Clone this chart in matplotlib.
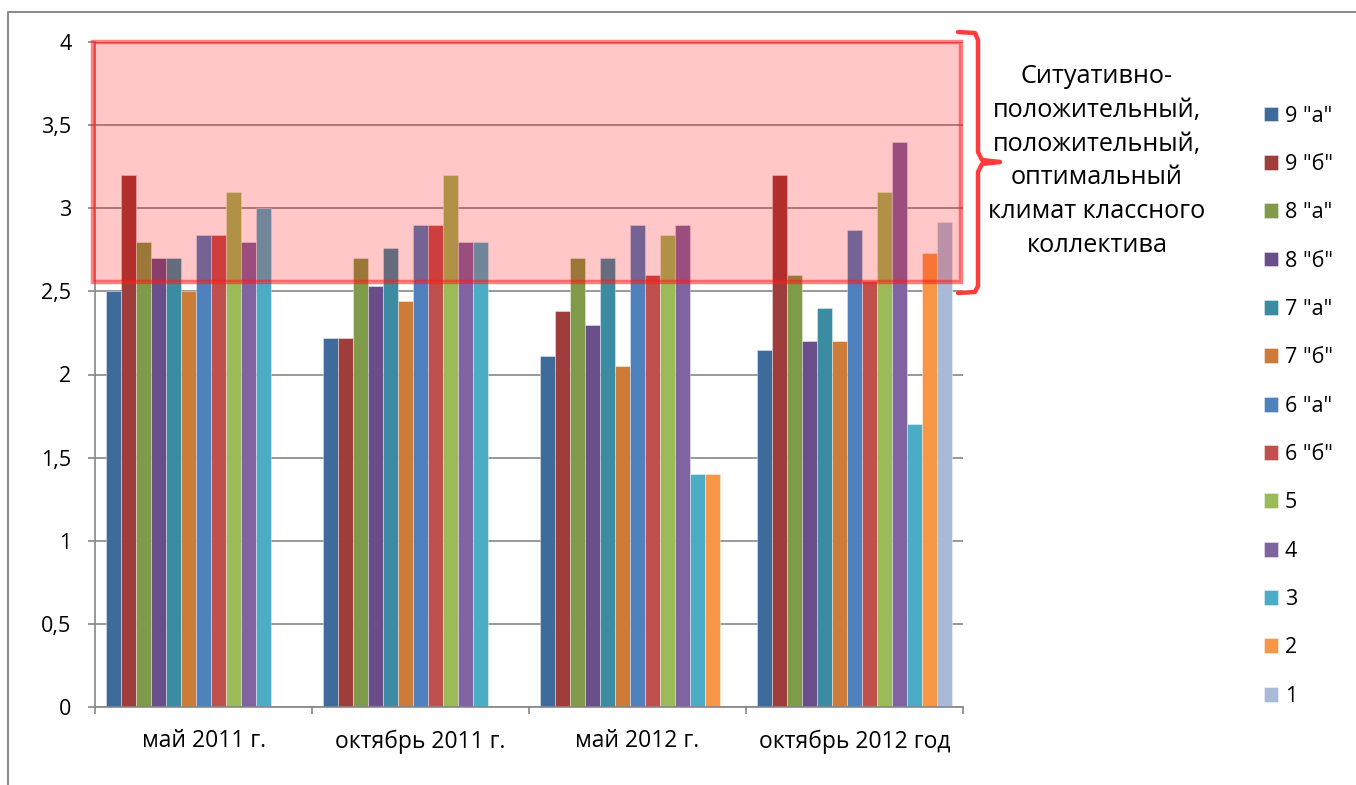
import numpy as np
import matplotlib
matplotlib.use('Agg')
import matplotlib.pyplot as plt
from matplotlib.patches import Rectangle
from matplotlib.lines import Line2D
import matplotlib.transforms as mtransforms

plt.rcParams['font.family'] = ['Open Sans', 'DejaVu Sans']

periods = ['май 2011 г.', 'октябрь 2011 г.', 'май 2012 г.', 'октябрь 2012 год']
classes = ['9 "а"', '9 "б"', '8 "а"', '8 "б"', '7 "а"', '7 "б"',
           '6 "а"', '6 "б"', '5', '4', '3', '2', '1']

# one list per period, in class order; None = no data
may_2011 = [2.5, 3.2, 2.8, 2.7, 2.7, 2.5, 2.84, 2.84, 3.1, 2.8, 3.0, None, None]
oct_2011 = [2.22, 2.22, 2.7, 2.53, 2.76, 2.44, 2.9, 2.9, 3.2, 2.8, 2.8, None, None]
may_2012 = [2.11, 2.38, 2.7, 2.3, 2.7, 2.05, 2.9, 2.6, 2.84, 2.9, 1.4, 1.4, None]
oct_2012 = [2.15, 3.2, 2.6, 2.2, 2.4, 2.2, 2.87, 2.56, 3.1, 3.4, 1.7, 2.73, 2.92]

colors = ['#3E6A9C', '#9E3D3B', '#7F9A48', '#6A4E8A', '#3B8BA2', '#CC7B38',
          '#4F81BD', '#C0504D', '#9BBB59', '#8064A2', '#4BACC6', '#F79646', '#A9BAD8']

zone_low, zone_high = 2.559, 4.0
zone_text = 'Ситуативно-\nположительный,\nположительный,\nоптимальный\nклимат классного\nколлектива'

table = np.array([may_2011, oct_2011, may_2012, oct_2012], dtype=float)

W, H = 1356, 785
fig = plt.figure(figsize=(W / 100, H / 100), dpi=100)
ax = fig.add_axes([95 / W, 1 - 707 / H, 868 / W, 665 / H])

x = np.arange(len(periods))
bw = 15 / 217
n = len(classes)
for i, name in enumerate(classes):
    vals = table[:, i]
    ax.bar(x + (i - (n - 1) / 2) * bw, np.nan_to_num(vals), width=bw,
           color=colors[i], edgecolor=(1, 1, 1, 0.45), linewidth=0.6,
           label=name, zorder=2)

ax.set_xlim(-0.5, len(periods) - 0.5)
ax.set_ylim(0, 4)
ax.set_yticks(np.arange(0, 4.01, 0.5))
ax.set_yticklabels([('%g' % v).replace('.', ',') for v in np.arange(0, 4.01, 0.5)])
ax.yaxis.grid(True, color='#868686', linewidth=1.2)
ax.set_axisbelow(True)

ax.set_xticks(x)
ax.set_xticklabels(periods)
ax.set_xticks(np.arange(-0.5, len(periods)), minor=True)
ax.tick_params(axis='x', which='major', length=0, pad=16, labelsize=16.5)
ax.tick_params(axis='x', which='minor', length=5, color='#868686', width=1.2)
ax.tick_params(axis='y', length=5, color='#868686', width=1.2, pad=12, labelsize=15.5)

for s in ['top', 'right']:
    ax.spines[s].set_visible(False)
for s in ['left', 'bottom']:
    ax.spines[s].set_color('#868686')
    ax.spines[s].set_linewidth(1.2)

# highlighted zone
trans = mtransforms.blended_transform_factory(ax.transAxes, ax.transData)
ax.add_patch(Rectangle((-0.002, zone_low), 1.0, zone_high - zone_low,
                       transform=trans, facecolor=(1, 0, 0, 0.22),
                       edgecolor=(1, 0.1, 0.1, 0.55), linewidth=3.2,
                       zorder=5, clip_on=False))

# brace
def px(xp, yp):
    return xp / W, 1 - yp / H

brace = [(958, 32), (975, 33), (978, 40), (978, 152), (982, 160), (1000, 162),
         (982, 164), (978, 172), (978, 286), (975, 292), (958, 293)]
bx, by = zip(*[px(a, b) for a, b in brace])
fig.add_artist(Line2D(bx, by, transform=fig.transFigure, color='#FF3B3B',
                      linewidth=3.2, solid_joinstyle='round', solid_capstyle='round'))

fig.text(1097 / W, 1 - 161 / H, zone_text, ha='center', va='center',
         fontsize=18.2, linespacing=1.46)

# outer frame
fig.add_artist(Line2D([8 / W, 8 / W, 1.0], [0, 1 - 12 / H, 1 - 12 / H],
                      transform=fig.transFigure, color='#8C8C8C', linewidth=1.5))

fig.legend(loc='upper left', bbox_to_anchor=(1255 / W, 1 - 97 / H),
           frameon=False, fontsize=15.5, handlelength=0.68, handleheight=0.68,
           handletextpad=0.3, labelspacing=1.27, borderaxespad=0)

fig.savefig('out.png', dpi=100)
